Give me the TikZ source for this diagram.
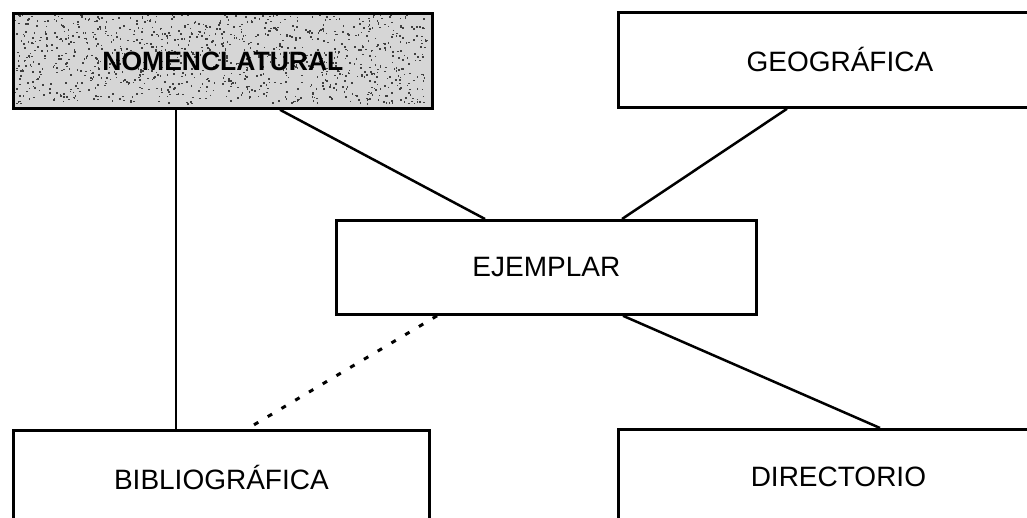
\documentclass[tikz,border=0pt]{standalone}
\usepackage{fontspec}
\setmainfont{Liberation Sans}
\usetikzlibrary{backgrounds}
\begin{document}
\begin{tikzpicture}[x=1pt,y=-1pt,
  box/.style={draw=black, line width=2.8pt, rectangle, anchor=north west, inner sep=0pt,
    font=\fontsize{28}{34}\selectfont},
  shadefill/.style={fill=black!16},
  speck/.style={fill=black!75, draw=none},
  conn/.style={line width=2.5pt},
  dots/.style={line width=3pt, dash pattern=on 5pt off 11pt}]
\useasboundingbox (0,0) rectangle (1027,518);
\clip (0,0) rectangle (1027,518);
\node[box, minimum width=419pt, minimum height=95pt,
  font=\fontsize{26.5}{32}\selectfont\bfseries] (nom) at (12,12) {NOMENCLATURAL};
\begin{scope}[on background layer]
  \fill[shadefill] (nom.north west) rectangle (nom.south east);
  \pgfmathsetseed{11}
  \foreach \i in {1,...,1100}{
    \pgfmathsetmacro\rx{rnd*413+2}
    \pgfmathsetmacro\ry{rnd*89+2}
    \fill[speck] ([xshift=\rx pt, yshift=-\ry pt]nom.north west) rectangle ++(1.6,1.6);
  }
\end{scope}
\node[box, minimum width=443pt, minimum height=95pt] (geo) at (617,11) {GEOGRÁFICA};
\node[box, minimum width=420pt, minimum height=94pt] (ejem) at (335,219) {EJEMPLAR};
\node[box, minimum width=416pt, minimum height=94pt] (bib) at (12,429) {BIBLIOGRÁFICA};
\node[box, minimum width=440pt, minimum height=94pt] (dir) at (617,428) {DIRECTORIO};
\draw[conn] ([xshift=164pt]nom.south west) -- ([xshift=164pt]bib.north west);
\draw[conn] ([xshift=268pt]nom.south west) -- ([xshift=150pt]ejem.north west);
\draw[conn] ([xshift=170pt]geo.south west) -- ([xshift=287pt]ejem.north west);
\draw[conn] ([xshift=288pt]ejem.south west) -- ([xshift=263pt]dir.north west);
\draw[dots] ([xshift=102pt]ejem.south west) -- ([xshift=235pt]bib.north west);
\end{tikzpicture}
\end{document}
